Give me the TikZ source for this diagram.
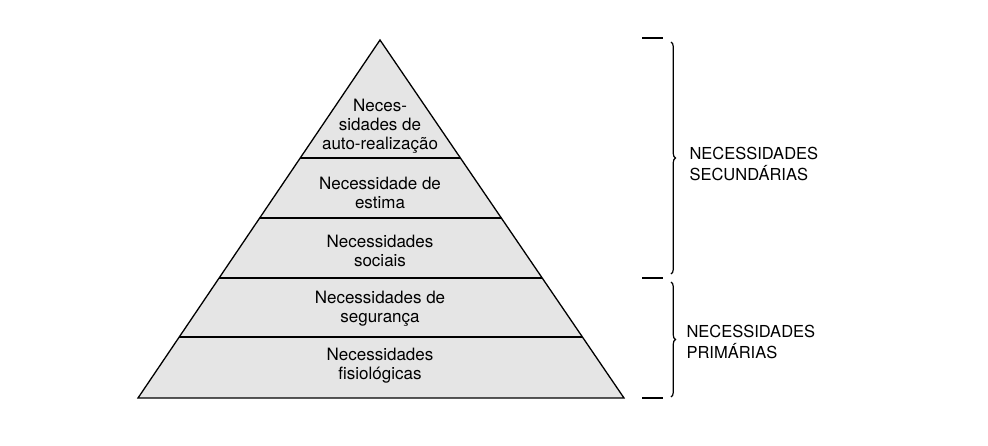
\documentclass[tikz,border=0pt]{standalone}
\usepackage{fontspec}
\setmainfont{TeX Gyre Heros}
\usetikzlibrary{calc,decorations.pathreplacing}

\tikzset{
  layertext/.style={font=\fontsize{17}{19}\selectfont, align=center},
  grouptext/.style={font=\fontsize{16.5}{21}\selectfont, align=left, anchor=west},
  tick/.style={line width=1.4pt},
  groupbrace/.style={line width=1.2pt, decorate, decoration={brace, amplitude=4.5pt}}
}

\begin{document}
\begin{tikzpicture}[x=1pt,y=-1pt]
		\useasboundingbox (0,0) rectangle (988,445);

		\coordinate (top) at (380,40);
		\coordinate (bl) at (138,398);
		\coordinate (br) at (624,398);

		\filldraw [fill=black!10, line width=1.3pt, line join=miter] (top) -- (br) -- (bl) -- cycle;

		% divisions between the levels
		\foreach \t in {0.3296,0.4972,0.6648,0.8296}
			\draw [line width=1.1pt] ($(top)!\t!(bl)$) -- ($(top)!\t!(br)$);

		\node [layertext] (selfreal) at (380,126) {Neces-\\sidades de\\auto-realização};
		\node [layertext] (esteem) at (380,193) {Necessidade de\\estima};
		\node [layertext] (social) at (380,251) {Necessidades\\sociais};
		\node [layertext] (safety) at (380,309) {Necessidades de\\segurança};
		\node [layertext] (physio) at (380,366) {Necessidades\\fisiológicas};

		% ticks and braces on the right
		\draw [tick] (642,38) -- (663,38);
		\draw [tick] (642,278) -- (663,278);
		\draw [tick] (642,398) -- (663,398);

		\coordinate (secA) at (671,42);
		\coordinate (secB) at (671,274);
		\coordinate (priA) at (671,282);
		\coordinate (priB) at (671,397);
		\draw [groupbrace] (secA) -- (secB);
		\draw [groupbrace] (priA) -- (priB);

		\node [grouptext] (secondary) at (686,164) {NECESSIDADES\\SECUNDÁRIAS};
		\node [grouptext] (primary) at (683,342) {NECESSIDADES\\PRIMÁRIAS};
	\end{tikzpicture}
\end{document}
